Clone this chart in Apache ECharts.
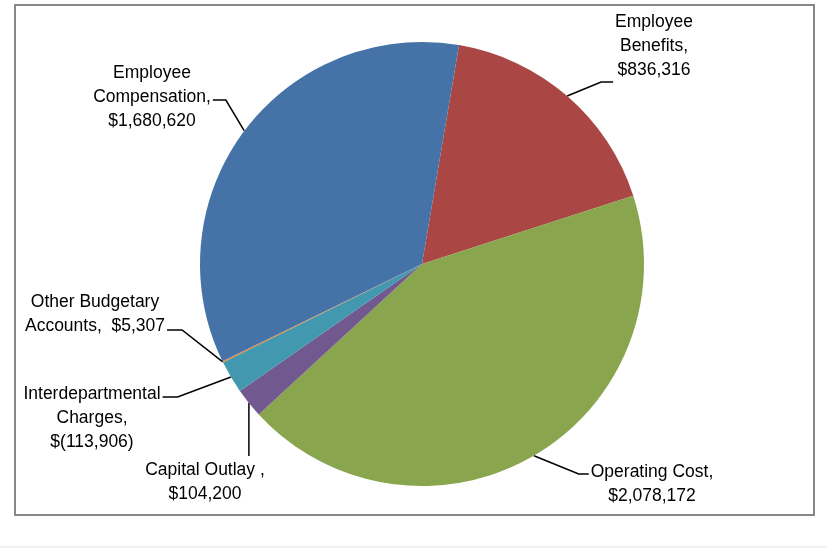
<!DOCTYPE html>
<html>
<head>
<meta charset="utf-8">
<script src="https://cdn.jsdelivr.net/npm/echarts@6/dist/echarts.min.js"></script>
<style>
html,body{margin:0;padding:0;background:#fff;}
#chart{width:827px;height:548px;}
</style>
</head>
<body>
<div id="chart"></div>
<script>
// ---- data ----
const categories = ["Employee Benefits", "Operating Cost", "Capital Outlay", "Interdepartmental Charges", "Other Budgetary Accounts", "Employee Compensation"];
const values = [836316, 2078172, 104200, -113906, 5307, 1680620];
// label text as shown (line breaks)
const labelNames = ["Employee\nBenefits,", "Operating Cost,", "Capital Outlay ,", "Interdepartmental\nCharges,", "Other Budgetary\nAccounts, ", "Employee\nCompensation,"];
const labelSeps = ["\n", "\n", "\n", "\n", " ", "\n"];
const colors = ["#AA4643", "#89A54E", "#71588F", "#4198AF", "#DB843D", "#4572A7"];

// ---- label placement (style) ----
const labelPos = [
  [654, 46], [652, 484], [205, 482], [92, 418], [95, 314], [152, 97]
];
// where the leader line meets each label
const labelAttach = [
  {side: 'left', dy: 36, stub: 12},
  {side: 'left', dy: -10, stub: 10},
  {side: 'top'},
  {side: 'right', dy: -21, stub: 15},
  {side: 'right', dy: 16, stub: 15},
  {side: 'right', dy: 3, stub: 13}
];

function fmt(v) {
  const s = Math.abs(v).toLocaleString('en-US');
  return v < 0 ? '$(' + s + ')' : '$' + s;
}

const chart = echarts.init(document.getElementById('chart'), null, {renderer: 'canvas'});
chart.setOption({
  animation: false,
  backgroundColor: '#ffffff',
  graphic: [
    {type: 'rect', shape: {x: 15, y: 5, width: 799, height: 510}, style: {fill: 'none', stroke: '#878787', lineWidth: 2}, z: -1},
    {type: 'rect', shape: {x: 0, y: 546, width: 827, height: 2}, style: {fill: '#f2f2f2'}, z: -1}
  ],
  series: [{
    type: 'pie',
    center: [422, 264],
    radius: [0, 222],
    startAngle: 80.4,
    clockwise: true,
    avoidLabelOverlap: false,
    data: categories.map((c, i) => ({
      name: c,
      value: Math.abs(values[i]),
      itemStyle: {color: colors[i]},
      label: {formatter: labelNames[i] + labelSeps[i] + fmt(values[i])}
    })),
    itemStyle: {borderWidth: 0},
    label: {
      show: true,
      position: 'outside',
      color: '#000',
      fontFamily: 'Liberation Sans, Arial, sans-serif',
      fontSize: 17.5,
      lineHeight: 24,
      align: 'center'
    },
    labelLine: {
      show: true,
      length: 10,
      length2: 12,
      lineStyle: {color: '#000', width: 1.5}
    },
    labelLayout: function (p) {
      const i = p.dataIndex;
      const pos = labelPos[i];
      const a = labelAttach[i];
      const w = p.labelRect.width, h = p.labelRect.height;
      const anchor = p.labelLinePoints ? p.labelLinePoints[0] : null;
      const out = {x: pos[0], y: pos[1], align: 'center', verticalAlign: 'middle'};
      if (anchor) {
        let pts;
        if (a.side === 'top') {
          const top = pos[1] - h / 2 - 2;
          pts = [anchor.slice(), [anchor[0], (anchor[1] + top) / 2], [anchor[0], top]];
        } else {
          const dir = a.side === 'left' ? -1 : 1;
          const sx = pos[0] + dir * (w / 2 + 2);
          const y = pos[1] + a.dy;
          pts = [anchor.slice(), [sx + dir * a.stub, y], [sx, y]];
        }
        out.labelLinePoints = pts;
      }
      return out;
    },
    emphasis: {disabled: true}
  }]
});
</script>
</body>
</html>
